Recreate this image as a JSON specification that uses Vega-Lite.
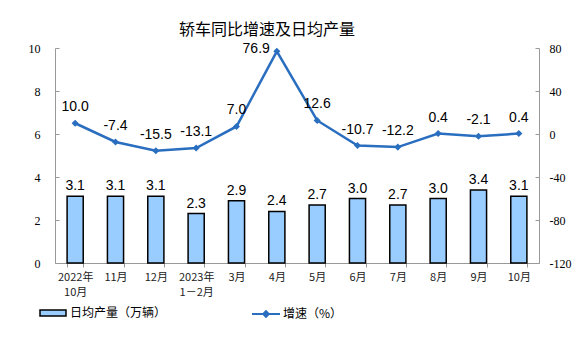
{
  "$schema": "https://vega.github.io/schema/vega-lite/v6.json",
  "width": 484,
  "height": 215,
  "autosize": "none",
  "padding": {"left": 55, "top": 48, "right": 37, "bottom": 94},
  "background": "white",
  "title": {"text": "轿车同比增速及日均产量", "font": "Noto Sans CJK SC", "fontSize": 16, "fontWeight": "normal", "color": "#000", "offset": 4, "dx": -30},
  "config": {"view": {"stroke": null}, "axis": {"grid": false},
    "locale": {"number": {"decimal": ".", "thousands": ",", "grouping": [3], "currency": ["", ""], "minus": "-"}}},
  "data": {"values": [
    {"month": "2022年|10月", "output": 3.1, "growth": 10.0},
    {"month": "11月", "output": 3.1, "growth": -7.4},
    {"month": "12月", "output": 3.1, "growth": -15.5},
    {"month": "2023年|1－2月", "output": 2.3, "growth": -13.1},
    {"month": "3月", "output": 2.9, "growth": 7.0},
    {"month": "4月", "output": 2.4, "growth": 76.9},
    {"month": "5月", "output": 2.7, "growth": 12.6},
    {"month": "6月", "output": 3.0, "growth": -10.7},
    {"month": "7月", "output": 2.7, "growth": -12.2},
    {"month": "8月", "output": 3.0, "growth": 0.4},
    {"month": "9月", "output": 3.4, "growth": -2.1},
    {"month": "10月", "output": 3.1, "growth": 0.4}
  ]},
  "encoding": {
    "x": {"field": "month", "type": "nominal", "sort": null, "title": null,
      "scale": {"paddingInner": 0.6, "paddingOuter": 0.3},
      "axis": {"labelAngle": 0, "domainColor": "#999", "tickColor": "#999", "tickSize": 4, "tickBand": "extent",
        "labelPadding": 4, "labelExpr": "split(datum.label, '|')", "labelLineHeight": 15,
        "labelFont": "Noto Sans CJK SC", "labelFontSize": 11, "labelColor": "#222"}}
  },
  "layer": [
    {
      "encoding": {
        "y": {"field": "output", "type": "quantitative", "title": null,
          "scale": {"domain": [0, 10], "nice": false},
          "axis": {"orient": "left", "values": [0, 2, 4, 6, 8, 10], "domainColor": "#999", "tickColor": "#999", "tickSize": -4,
            "labelPadding": 19, "labelFont": "Liberation Serif", "labelFontSize": 12, "labelColor": "#000"}}
      },
      "layer": [
        {"mark": {"type": "bar", "stroke": "#000", "strokeWidth": 1.5},
          "encoding": {"fill": {"datum": "日均产量（万辆）", "type": "nominal",
            "scale": {"domain": ["日均产量（万辆）"], "range": ["#99CCFF"]},
            "legend": {"title": null, "orient": "none", "legendX": -16, "legendY": 251,
              "symbolType": "M-1,-0.23L1,-0.23L1,0.23L-1,0.23Z", "symbolSize": 676, "symbolStrokeColor": "#000", "symbolStrokeWidth": 1.5,
              "labelFont": "Noto Sans CJK SC", "labelFontSize": 12, "labelColor": "#000", "labelOffset": 3}}}},
        {"mark": {"type": "text", "baseline": "bottom", "dy": -3, "font": "Liberation Sans", "fontSize": 14, "color": "#000"},
          "encoding": {"text": {"field": "output", "type": "quantitative", "format": ".1f"}}}
      ]
    },
    {
      "encoding": {
        "y": {"field": "growth", "type": "quantitative", "title": null,
          "scale": {"domain": [-120, 80], "nice": false},
          "axis": {"orient": "right", "values": [-120, -80, -40, 0, 40, 80], "domainColor": "#999", "tickColor": "#999", "tickSize": -4,
            "labelPadding": 14, "labelFont": "Liberation Serif", "labelFontSize": 12, "labelColor": "#000"}}
      },
      "layer": [
        {"mark": {"type": "line", "strokeWidth": 2.5},
          "encoding": {"stroke": {"datum": "增速（%）", "type": "nominal",
            "scale": {"domain": ["增速（%）"], "range": ["#2A6EBF"]},
            "legend": {"title": null, "orient": "none", "legendX": 196, "legendY": 251,
              "symbolType": "M-1,0L1,0M0,-0.2L0.2,0L0,0.2L-0.2,0Z", "symbolSize": 784, "symbolStrokeWidth": 2, "symbolFillColor": "#2A6EBF",
              "labelFont": "Noto Sans CJK SC", "labelFontSize": 12, "labelColor": "#000", "labelOffset": 2}}}},
        {"mark": {"type": "point", "shape": "diamond", "filled": true, "size": 50, "color": "#2A6EBF", "opacity": 1}},
        {"transform": [{"filter": "datum.month != '4月'"}],
          "mark": {"type": "text", "baseline": "bottom", "dy": -9, "font": "Liberation Sans", "fontSize": 14, "color": "#000"},
          "encoding": {"text": {"field": "growth", "type": "quantitative", "format": ".1f"}}},
        {"transform": [{"filter": "datum.month == '4月'"}],
          "mark": {"type": "text", "align": "right", "baseline": "middle", "dx": -7, "dy": -2, "font": "Liberation Sans", "fontSize": 14, "color": "#000"},
          "encoding": {"text": {"field": "growth", "type": "quantitative", "format": ".1f"}}}
      ]
    }
  ],
  "resolve": {"scale": {"y": "independent"}}
}
